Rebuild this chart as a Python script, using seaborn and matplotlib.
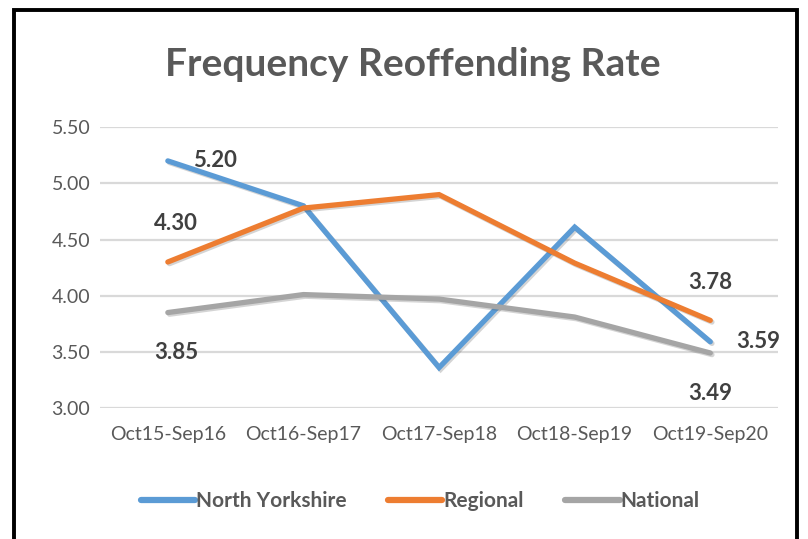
import pandas as pd
import seaborn as sns
import matplotlib.pyplot as plt
import matplotlib.patheffects as pe
from matplotlib.patches import Rectangle

periods = ["Oct15-Sep16", "Oct16-Sep17", "Oct17-Sep18", "Oct18-Sep19", "Oct19-Sep20"]
north_yorkshire = [5.20, 4.80, 3.36, 4.61, 3.59]
regional = [4.30, 4.78, 4.90, 4.29, 3.78]
national = [3.85, 4.01, 3.97, 3.81, 3.49]

series = ["North Yorkshire", "Regional", "National"]
colors = ["#5B9BD5", "#ED7D31", "#A5A5A5"]

df = pd.DataFrame({
    "period": periods * 3,
    "x": list(range(len(periods))) * 3,
    "rate": north_yorkshire + regional + national,
    "area": [s for s in series for _ in periods],
})

sns.set_style("white")
plt.rcParams["font.family"] = ["Lato", "DejaVu Sans"]

fig = plt.figure(figsize=(8.08, 5.39), dpi=100)
ax = fig.add_axes([0.1238, 0.243, 0.8392, 0.521])

sns.lineplot(df, x="x", y="rate", hue="area", palette=dict(zip(series, colors)),
             linewidth=3.8, ax=ax, legend=False, zorder=3)
for line in ax.lines:
    line.set_solid_capstyle("round")
    line.set_solid_joinstyle("miter")
    line.set_path_effects([pe.SimpleLineShadow(offset=(1.2, -1.2), alpha=0.25, shadow_color="#555555"),
                           pe.Normal()])

ax.set_xlim(-0.5, len(periods) - 0.5)
ax.set_ylim(3.0, 5.5)
ax.set_yticks([3.0, 3.5, 4.0, 4.5, 5.0, 5.5])
ax.set_yticklabels([f"{v:.2f}" for v in ax.get_yticks()])
ax.set_xticks(range(len(periods)))
ax.set_xticklabels(periods)
ax.tick_params(axis="both", length=0, labelsize=14, colors="#595959")
ax.tick_params(axis="x", pad=13)
ax.tick_params(axis="y", pad=7)
ax.grid(axis="y", color="#D9D9D9", linewidth=1.6)
ax.set_axisbelow(True)
for s in ax.spines.values():
    s.set_visible(False)
ax.set_xlabel(None)
ax.set_ylabel(None)

# data labels on first and last points
def label(x, y, dx, dy):
    ax.annotate(f"{y:.2f}", (x, y), xytext=(dx * 0.72, dy * 0.72), textcoords="offset points",
                ha="center", va="center", fontsize=16, fontweight="bold", color="#404040")

label(0, north_yorkshire[0], 47, 0)
label(0, regional[0], 8, 38)
label(0, national[0], 8, -40)
label(4, regional[4], 0, 38)
label(4, north_yorkshire[4], 48, 0)
label(4, national[4], 0, -41)

fig.text(0.511, 0.88, "Frequency Reoffending Rate", ha="center", va="center",
         fontsize=28, fontweight="bold", color="#595959")

handles = [plt.Line2D([], [], color=c, linewidth=4.5, solid_capstyle="round") for c in colors]
leg = fig.legend(handles, series, loc="center", bbox_to_anchor=(0.52, 0.07), ncol=3,
                 frameon=False, handlelength=2.6, handletextpad=0.05, columnspacing=2.0,
                 prop={"size": 15, "weight": "bold"})
for t in leg.get_texts():
    t.set_color("#595959")

fig.patches.append(Rectangle((14 / 808, -0.02), 783 / 808, 1 - 10 / 539 + 0.02,
                             transform=fig.transFigure, fill=False, edgecolor="black",
                             linewidth=2.8, figure=fig))

fig.savefig("out.png", dpi=100)
